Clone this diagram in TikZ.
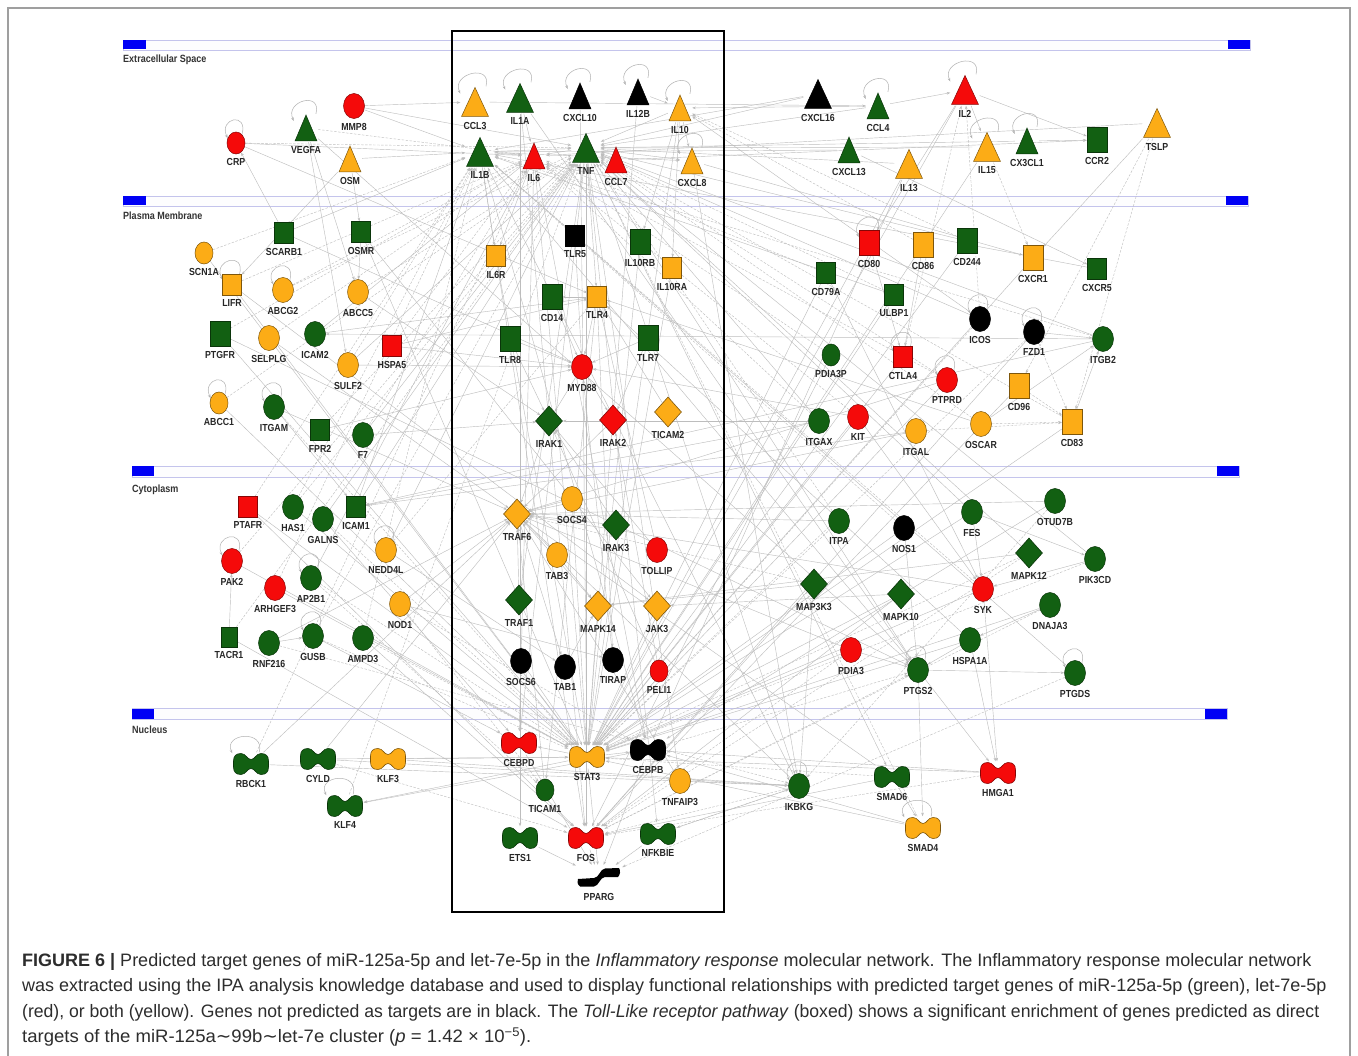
\documentclass[tikz,border=0pt]{standalone}
\usepackage{fontspec}
\setmainfont{Liberation Sans}
\newfontfamily\labfont{Liberation Sans}[FakeStretch=0.86]
\newfontfamily\dvfont{DejaVu Sans}
\usetikzlibrary{shapes.geometric,arrows.meta,backgrounds}
\definecolor{gGreen}{RGB}{18,96,18}
\definecolor{gRed}{RGB}{245,10,10}
\definecolor{gOrange}{RGB}{252,172,22}
\definecolor{lav}{RGB}{196,196,236}
\definecolor{cblue}{RGB}{0,0,245}
\definecolor{capc}{RGB}{45,45,45}
\tikzset{
  gn/.style={fill=gGreen, draw=gGreen!55!black},
  rd/.style={fill=gRed, draw=gRed!55!black},
  yl/.style={fill=gOrange, draw=gOrange!50!black},
  bk/.style={fill=black, draw=black},
  every label/.style={font=\labfont\bfseries\fontsize{10.2}{11}\selectfont, text=black!85, inner sep=1pt},
  label distance=3pt,
  sq/.style={rectangle, minimum width=19pt, minimum height=21pt, inner sep=0pt, line width=0.5pt},
  sqL/.style={rectangle, minimum width=20pt, minimum height=25pt, inner sep=0pt, line width=0.5pt},
  sqs/.style={rectangle, minimum width=16pt, minimum height=20pt, inner sep=0pt, line width=0.5pt},
  cir/.style={ellipse, minimum width=21pt, minimum height=25pt, inner sep=0pt, line width=0.5pt},
  cirs/.style={ellipse, minimum width=18pt, minimum height=22pt, inner sep=0pt, line width=0.5pt},
  dia/.style={diamond, minimum width=27pt, minimum height=30pt, inner sep=0pt, line width=0.6pt},
  tri/.style={rectangle, draw=none, fill=none, minimum width=29pt, minimum height=31pt, inner sep=0pt,
    path picture={\filldraw[#1, line width=0.5pt]
      ([shift={(-13.5,-14.5)}]path picture bounding box.center) --
      ([shift={(13.5,-14.5)}]path picture bounding box.center) --
      ([shift={(0,14.5)}]path picture bounding box.center) -- cycle;}},
  trs/.style={rectangle, draw=none, fill=none, minimum width=24pt, minimum height=28pt, inner sep=0pt,
    path picture={\filldraw[#1, line width=0.5pt]
      ([shift={(-11,-13)}]path picture bounding box.center) --
      ([shift={(11,-13)}]path picture bounding box.center) --
      ([shift={(0,13)}]path picture bounding box.center) -- cycle;}},
  db/.style={rectangle, draw=none, fill=none, minimum width=37pt, minimum height=23pt, inner sep=0pt,
    path picture={\filldraw[#1, line width=0.6pt, shift={(path picture bounding box.center)}]
      (0,4.5) .. controls (4,4.5) and (5,10.5) .. (10,10.5)
      .. controls (15,10.5) and (17.5,8) .. (17.5,3) -- (17.5,-3)
      .. controls (17.5,-8) and (15,-10.5) .. (10,-10.5)
      .. controls (5,-10.5) and (4,-4.5) .. (0,-4.5)
      .. controls (-4,-4.5) and (-5,-10.5) .. (-10,-10.5)
      .. controls (-15,-10.5) and (-17.5,-8) .. (-17.5,-3) -- (-17.5,3)
      .. controls (-17.5,8) and (-15,10.5) .. (-10,10.5)
      .. controls (-5,10.5) and (-4,4.5) .. (0,4.5) -- cycle;}},
  ppar/.style={rectangle, draw=none, fill=none, minimum width=46pt, minimum height=24pt, inner sep=0pt,
    path picture={\fill[black, shift={(path picture bounding box.center)}]
      (-21,-2) -- (-5,-1) .. controls (0,-1) and (1,8) .. (6,8.5) -- (20,9)
      .. controls (22,6) and (21,2) .. (19,0) -- (6,0)
      .. controls (1,0) and (0,-9) .. (-5,-9.5) -- (-19,-9.5)
      .. controls (-22,-7) and (-22,-4) .. (-21,-2) -- cycle;}},
  lnk/.style={draw=gray!52, line width=0.42pt, -{Stealth[length=3.6pt,width=2.6pt]}},
  lnkd/.style={lnk, dash pattern=on 2.5pt off 1.5pt},
  selfloop/.style={draw=gray!60, line width=0.5pt, -{Stealth[length=3.6pt,width=2.6pt]}},
  barbox/.style={draw=lav, fill=white!97!lav, line width=0.7pt},
  bluebox/.style={fill=cblue, draw=none},
  complab/.style={font=\labfont\bfseries\fontsize{10.5}{11}\selectfont, text=black!80, inner sep=0pt, anchor=west},
  capline/.style={font=\fontsize{18}{21}\selectfont, text=capc, inner sep=0pt, anchor=base west}
}
\begin{document}
\begin{tikzpicture}[x=1pt,y=1pt]
\useasboundingbox (0,0) rectangle (1358,-1056);

% ---------- extracellular ----------
\node[cirs,rd,label=below:CRP] (crp) at (236,-143) {};
\node[trs=gn,label=below:VEGFA] (vegfa) at (306,-128) {};
\node[cir,rd,label=below:MMP8] (mmp8) at (354,-106) {};
\node[trs=yl,label=below:OSM] (osm) at (350,-159) {};
\node[tri=yl,label=below:CCL3] (ccl3) at (475,-102) {};
\node[tri=gn,label=below:IL1A] (il1a) at (520,-98) {};
\node[trs=bk,label=below:CXCL10] (cxcl10) at (580,-96) {};
\node[trs=bk,label=below:IL12B] (il12b) at (638,-92) {};
\node[trs=yl,label=below:IL10] (il10) at (680,-108) {};
\node[tri=gn,label=below:IL1B] (il1b) at (480,-152) {};
\node[trs=rd,label=below:IL6] (il6) at (534,-156) {};
\node[tri=gn,label=below:TNF] (tnf) at (586,-148) {};
\node[trs=rd,label=below:CCL7] (ccl7) at (616,-160) {};
\node[trs=yl,label=below:CXCL8] (cxcl8) at (692,-161) {};
\node[tri=bk,label=below:CXCL16] (cxcl16) at (818,-94) {};
\node[trs=gn,label=below:CCL4] (ccl4) at (878,-106) {};
\node[tri=rd,label=below:IL2] (il2) at (965,-90) {};
\node[trs=gn,label=below:CXCL13] (cxcl13) at (849,-150) {};
\node[tri=yl,label=below:IL13] (il13) at (909,-164) {};
\node[tri=yl,label=below:IL15] (il15) at (987,-147) {};
\node[trs=gn,label=below:CX3CL1] (cx3cl1) at (1027,-141) {};
\node[sqL,gn,label=below:CCR2] (ccr2) at (1097,-140) {};
\node[tri=yl,label=below:TSLP] (tslp) at (1157,-123) {};

% ---------- plasma membrane ----------
\node[sq,gn,label=below:SCARB1] (scarb1) at (284,-233) {};
\node[sq,gn,label=below:OSMR] (osmr) at (361,-232) {};
\node[cirs,yl,label=below:SCN1A] (scn1a) at (204,-253) {};
\node[sq,yl,label=below:LIFR] (lifr) at (232,-285) {};
\node[cir,yl,label=below:ABCG2] (abcg2) at (283,-290) {};
\node[cir,yl,label=below:ABCC5] (abcc5) at (358,-292) {};
\node[sqL,gn,label=below:PTGFR] (ptgfr) at (220,-334) {};
\node[cir,yl,label=below:SELPLG] (selplg) at (269,-338) {};
\node[cir,gn,label=below:ICAM2] (icam2) at (315,-334) {};
\node[cir,yl,label=below:SULF2] (sulf2) at (348,-365) {};
\node[sq,rd,label=below:HSPA5] (hspa5) at (392,-346) {};
\node[cirs,yl,label=below:ABCC1] (abcc1) at (219,-403) {};
\node[cir,gn,label=below:ITGAM] (itgam) at (274,-407) {};
\node[sq,gn,label=below:FPR2] (fpr2) at (320,-430) {};
\node[cir,gn,label=below:F7] (f7) at (363,-435) {};

\node[sq,yl,label=below:IL6R] (il6r) at (496,-256) {};
\node[sq,bk,label=below:TLR5] (tlr5) at (575,-236) {};
\node[sqL,gn,label=below:IL10RB] (il10rb) at (640,-242) {};
\node[sq,yl,label=below:IL10RA] (il10ra) at (672,-268) {};
\node[sqL,gn,label=below:CD14] (cd14) at (552,-297) {};
\node[sq,yl,label=below:TLR4] (tlr4) at (597,-297) {};
\node[sqL,gn,label=below:TLR8] (tlr8) at (510,-339) {};
\node[sqL,gn,label=below:TLR7] (tlr7) at (648,-338) {};
\node[cir,rd,label=below:MYD88] (myd88) at (582,-367) {};
\node[dia,gn,label=below:IRAK1] (irak1) at (549,-421) {};
\node[dia,rd,label=below:IRAK2] (irak2) at (613,-420) {};
\node[dia,yl,label=below:TICAM2] (ticam2) at (668,-412) {};

\node[sqL,rd,label=below:CD80] (cd80) at (869,-243) {};
\node[sqL,yl,label=below:CD86] (cd86) at (923,-245) {};
\node[sqL,gn,label=below:CD244] (cd244) at (967,-241) {};
\node[sqL,yl,label=below:CXCR1] (cxcr1) at (1033,-258) {};
\node[sq,gn,label=below:CXCR5] (cxcr5) at (1097,-269) {};
\node[sq,gn,label=below:CD79A] (cd79a) at (826,-273) {};
\node[sq,gn,label=below:ULBP1] (ulbp1) at (894,-295) {};
\node[cir,bk,label=below:ICOS] (icos) at (980,-319) {};
\node[cir,bk,label=below:FZD1] (fzd1) at (1034,-332) {};
\node[cir,gn,label=below:ITGB2] (itgb2) at (1103,-339) {};
\node[cirs,gn,label=below:PDIA3P] (pdia3p) at (831,-355) {};
\node[sq,rd,label=below:CTLA4] (ctla4) at (903,-357) {};
\node[cir,rd,label=below:PTPRD] (ptprd) at (947,-380) {};
\node[sqL,yl,label=below:CD96] (cd96) at (1019,-386) {};
\node[sqL,yl,label=below:CD83] (cd83) at (1072,-422) {};
\node[cir,gn,label=below:ITGAX] (itgax) at (819,-421) {};
\node[cir,rd,label=below:KIT] (kit) at (858,-417) {};
\node[cir,yl,label=below:ITGAL] (itgal) at (916,-431) {};
\node[cir,yl,label=below:OSCAR] (oscar) at (981,-424) {};

% ---------- cytoplasm ----------
\node[sq,rd,label=below:PTAFR] (ptafr) at (248,-507) {};
\node[cir,gn,label=below:HAS1] (has1) at (293,-507) {};
\node[cir,gn,label=below:GALNS] (galns) at (323,-519) {};
\node[sq,gn,label=below:ICAM1] (icam1) at (356,-507) {};
\node[cir,yl,label=below:NEDD4L] (nedd4l) at (386,-550) {};
\node[cir,rd,label=below:PAK2] (pak2) at (232,-561) {};
\node[cir,rd,label=below:ARHGEF3] (arhgef3) at (275,-588) {};
\node[cir,gn,label=below:AP2B1] (ap2b1) at (311,-578) {};
\node[cir,yl,label=below:NOD1] (nod1) at (400,-604) {};
\node[sqs,gn,label=below:TACR1] (tacr1) at (229,-637) {};
\node[cir,gn,label=below:RNF216] (rnf216) at (269,-643) {};
\node[cir,gn,label=below:GUSB] (gusb) at (313,-636) {};
\node[cir,gn,label=below:AMPD3] (ampd3) at (363,-638) {};

\node[cir,yl,label=below:SOCS4] (socs4) at (572,-499) {};
\node[dia,yl,label=below:TRAF6] (traf6) at (517,-514) {};
\node[dia,gn,label=below:IRAK3] (irak3) at (616,-525) {};
\node[cir,yl,label=below:TAB3] (tab3) at (557,-555) {};
\node[cir,rd,label=below:TOLLIP] (tollip) at (657,-550) {};
\node[dia,gn,label=below:TRAF1] (traf1) at (519,-600) {};
\node[dia,yl,label=below:MAPK14] (mapk14) at (598,-606) {};
\node[dia,yl,label=below:JAK3] (jak3) at (657,-606) {};
\node[cir,bk,label=below:SOCS6] (socs6) at (521,-661) {};
\node[cir,bk,label=below:TAB1] (tab1) at (565,-667) {};
\node[cir,bk,label=below:TIRAP] (tirap) at (613,-660) {};
\node[cirs,rd,label=below:PELI1] (peli1) at (659,-671) {};

\node[cir,gn,label=below:OTUD7B] (otud7b) at (1055,-501) {};
\node[cir,gn,label=below:ITPA] (itpa) at (839,-521) {};
\node[cir,bk,label=below:NOS1] (nos1) at (904,-528) {};
\node[cir,gn,label=below:FES] (fes) at (972,-512) {};
\node[dia,gn,label=below:MAPK12] (mapk12) at (1029,-553) {};
\node[cir,gn,label=below:PIK3CD] (pik3cd) at (1095,-559) {};
\node[dia,gn,label=below:MAP3K3] (map3k3) at (814,-584) {};
\node[dia,gn,label=below:MAPK10] (mapk10) at (901,-594) {};
\node[cir,rd,label=below:SYK] (syk) at (983,-589) {};
\node[cir,gn,label=below:DNAJA3] (dnaja3) at (1050,-605) {};
\node[cir,rd,label=below:PDIA3] (pdia3) at (851,-650) {};
\node[cir,gn,label=below:HSPA1A] (hspa1a) at (970,-640) {};
\node[cir,gn,label=below:PTGS2] (ptgs2) at (918,-670) {};
\node[cir,gn,label=below:PTGDS] (ptgds) at (1075,-673) {};

% ---------- nucleus ----------
\node[db=gn,label=below:RBCK1] (rbck1) at (251,-764) {};
\node[db=gn,label=below:CYLD] (cyld) at (318,-759) {};
\node[db=yl,label=below:KLF3] (klf3) at (388,-759) {};
\node[db=gn,label=below:KLF4] (klf4) at (345,-806) {};
\node[db=rd,label=below:CEBPD] (cebpd) at (519,-743) {};
\node[db=yl,label=below:STAT3] (stat3) at (587,-757) {};
\node[db=bk,label=below:CEBPB] (cebpb) at (648,-750) {};
\node[cir,yl,label=below:TNFAIP3] (tnfaip3) at (680,-781) {};
\node[cirs,gn,label=below:TICAM1] (ticam1) at (545,-790) {};
\node[db=gn,label=below:ETS1] (ets1) at (520,-838) {};
\node[db=rd,label=below:FOS] (fos) at (586,-838) {};
\node[db=gn,label=below:NFKBIE] (nfkbie) at (658,-834) {};
\node[ppar,label=below:PPARG] (pparg) at (599,-877) {};
\node[cir,gn,label=below:IKBKG] (ikbkg) at (799,-786) {};
\node[db=gn,label=below:SMAD6] (smad6) at (892,-777) {};
\node[db=rd,label=below:HMGA1] (hmga1) at (998,-773) {};
\node[db=yl,label=below:SMAD4] (smad4) at (923,-828) {};

% pathway box
\draw[black, line width=1.6pt] (452,-31) rectangle (724,-912);

% blue compartment markers and labels
\fill[bluebox] (123,-40) rectangle (146,-49.5);
\fill[bluebox] (1228,-40) rectangle (1250,-49.5);
\node[complab] (lecs) at (123,-60) {Extracellular Space};
\fill[bluebox] (123,-196.5) rectangle (146,-205.5);
\fill[bluebox] (1226,-196.5) rectangle (1248,-205.5);
\node[complab] (lpm) at (123,-216) {Plasma Membrane};
\fill[bluebox] (132,-466.5) rectangle (154,-476.5);
\fill[bluebox] (1217,-466.5) rectangle (1239,-476.5);
\node[complab] (lcyt) at (132,-490) {Cytoplasm};
\fill[bluebox] (132,-708.5) rectangle (154,-718.5);
\fill[bluebox] (1205,-708.5) rectangle (1227,-718.5);
\node[complab] (lnuc) at (132,-730) {Nucleus};

% ---------- background: frame, bars, connectors ----------
\begin{pgfonlayer}{background}
\fill[white] (0,0) rectangle (1358,-1056);
\draw[gray!75, line width=1.2pt] (8,-1056) -- (8,-8) -- (1350,-8) -- (1350,-1056);
\draw[barbox] (123,-40) rectangle (1250,-50);
\draw[barbox] (123,-196) rectangle (1248,-206);
\draw[barbox] (132,-466) rectangle (1239,-477);
\draw[barbox] (132,-708) rectangle (1227,-719);
\foreach \a/\b in {mmp8/ccl3, osm/il1b, ccl3/ccl4, ccl4/il2, il2/ccr2, cx3cl1/ccr2, ccl7/ccr2,
  il1a/il6, il1b/il6, tnf/il6, tnf/cxcl8, il1b/cxcl8, il10/tnf, il10/cxcl8, il12b/il10,
  il6/il6r, il1b/il6r, il10/il10ra, il10/il10rb, tnf/tlr4, tlr4/cd14, tlr4/myd88, tlr8/myd88,
  tlr7/myd88, tlr5/myd88, cd14/myd88, myd88/irak1, myd88/irak2, ticam2/tlr4, tlr4/ticam1,
  ticam1/traf6, irak1/traf6, irak2/traf6, irak3/irak1, tollip/irak1, socs4/traf6, tab3/traf6,
  traf6/tab1, tab1/mapk14, traf6/mapk14, tirap/myd88, peli1/irak1, jak3/stat3, il6r/stat3,
  il10ra/stat3, il10rb/stat3, mapk14/stat3, stat3/fos, tnfaip3/traf6, tnf/tnfaip3,
  cebpb/pparg, cebpd/pparg, fos/pparg, nfkbie/pparg, ets1/pparg, stat3/pparg, traf1/traf6,
  tnf/traf1, tnf/nfkbie, il1b/cebpb, il6/cebpb, il6/cebpd, il6/stat3, il10/stat3, tnf/fos,
  il1b/fos, stat3/cebpd, stat3/cebpb, tnf/cebpd, il1a/ets1, socs6/stat3, tlr4/tirap,
  tlr8/irak1, tlr7/irak2, cxcl10/stat3, il12b/stat3, tab3/mapk14, socs4/stat3, tollip/tlr4,
  irak3/traf6, peli1/irak2, il1a/fos, il1b/tnf, ccl7/tnf,
  cxcl8/cxcr1, tnf/ikbkg, ikbkg/nfkbie, tnf/ptgs2, il1b/ptgs2, ptgs2/ptgds, syk/hmga1,
  hspa1a/hmga1, ptgs2/hmga1, smad6/smad4, tnf/smad6, ptgs2/smad4, cd80/ctla4, cd86/ctla4,
  il2/cd80, itgb2/icam1, itgal/icam1, itgb2/icam2, itgax/icam1, kit/syk, fes/syk,
  map3k3/mapk14, mapk12/mapk14, dnaja3/hspa1a, hspa1a/tlr4, pdia3/stat3, nos1/ptgs2,
  otud7b/traf6, fzd1/itgb2, oscar/itgb2, cd83/itgb2, itgax/tnf, cd79a/syk, il13/cebpb,
  il15/stat3, il2/stat3, il13/stat3, cxcl13/cxcr5, ptprd/stat3, mapk10/jak3, syk/traf6,
  ikbkg/traf6, smad6/traf6, smad4/stat3, kit/stat3, fes/stat3, pik3cd/syk, fes/pik3cd,
  map3k3/ikbkg, mapk10/fos, hspa1a/ptgs2, pdia3/ptgs2, il1a/ptgs2, cxcl8/ikbkg, hmga1/stat3,
  il2/il15, tslp/cxcr1, cd244/tnf, ulbp1/il1b, icos/il10, cxcl16/il1b, ccl4/il10,
  scarb1/crp, osm/osmr, osmr/abcc5, osm/lifr, vegfa/sulf2, vegfa/abcc5, mmp8/tnf, hspa5/tlr4,
  icam1/il1b, icam1/tnf, tacr1/pak2, rnf216/gusb, rbck1/traf6, cyld/traf6, cyld/stat3,
  klf3/stat3, stat3/klf4, cebpb/klf4, crp/il6, mmp8/il1b, itgam/icam1, lifr/stat3,
  osmr/stat3, ptafr/stat3, nedd4l/tnf, nod1/traf6, ptgfr/ptgs2, vegfa/ptgs2, scarb1/il1b,
  f7/tnf, icam2/il6, sulf2/tnf, rbck1/ikbkg, cyld/ikbkg, klf3/ikbkg, ap2b1/il6, galns/tnf,
  abcc5/irak1, sulf2/myd88, hspa5/myd88, itgam/traf6, f7/irak1, fpr2/myd88, icam2/tlr4,
  selplg/traf6, ptgfr/stat3, nedd4l/tab1, nod1/tirap, ampd3/fos, gusb/cebpd, arhgef3/stat3,
  pak2/stat3, rnf216/traf6, tacr1/fos, has1/stat3, galns/cebpd, ptafr/fos, scn1a/stat3,
  abcc1/stat3, lifr/jak3, scarb1/myd88, osmr/jak3, crp/tlr4,
  itgax/irak1, kit/myd88, itgal/traf6, oscar/tlr4, ptprd/traf6, cd83/stat3, cd96/fos,
  fzd1/fos, icos/tnf, ctla4/stat3, pdia3p/fos, ulbp1/stat3, cd79a/stat3, cd244/stat3,
  cxcr1/stat3, cxcr5/il1b, itgb2/tnf, itpa/traf6, nos1/stat3, fes/tnf, otud7b/cebpb,
  mapk12/tnf, pik3cd/tnf, map3k3/fos, mapk10/stat3, syk/stat3, dnaja3/stat3, pdia3/traf6,
  hspa1a/stat3, ptgds/il1b, ikbkg/il1b, smad6/fos, hmga1/cebpb, smad4/cebpb, il13/tnf,
  il15/tnf, tslp/il6, cx3cl1/tnf, cxcl13/il1b, ccl4/tnf, cxcl16/tnf}
  \draw[lnk] (\a) -- (\b);
\foreach \a/\b in {il15/cxcr1, tslp/cd83, cd96/cd83, fzd1/cd83, oscar/cd83, tslp/cd96,
  itgal/cd83, crp/tnf, abcg2/il6, abcc5/tnf, sulf2/il1b, galns/stat3, has1/il1b, ampd3/stat3,
  gusb/tnf, arhgef3/il1b, nedd4l/tlr4, ap2b1/stat3, nod1/ticam1, pak2/tnf, ptgfr/il6,
  selplg/il6, itgam/stat3, fpr2/tnf, f7/il6, abcc1/tnf, scn1a/il1b, lifr/il6, cd244/il10,
  ulbp1/tnf, pdia3p/il6, ptprd/tnf, itpa/stat3, cd79a/il6, icos/il2, ctla4/il2,
  otud7b/ikbkg, pdia3/fos, map3k3/traf6, mapk12/stat3, dnaja3/fos, ptgds/pparg,
  rnf216/ikbkg, tacr1/tnf, hspa5/il6, vegfa/il6, itpa/tnf, nos1/il1b, kit/il6, oscar/tnf,
  cd86/il10, ptprd/il6, icos/stat3, fzd1/stat3, itgb2/il1b, cd83/tnf, itgax/il6,
  pik3cd/stat3, mapk12/fos, syk/il1b, smad4/tnf, smad6/stat3, hmga1/fos, ikbkg/fos,
  abcg2/tnf, ampd3/il1b, gusb/stat3, ptafr/il1b, has1/tnf, cyld/fos, klf4/tnf, rbck1/il6,
  ap2b1/ticam1, nod1/cebpb, tnfaip3/ikbkg, nfkbie/ikbkg, cebpb/ptgs2, fos/ptgs2}
  \draw[lnkd] (\a) -- (\b);
\foreach \n in {crp, vegfa, ccl3, il1a, cxcl10, il12b, il10, cxcl8, ccl4, il2, il15, cx3cl1,
  lifr, abcg2, abcc1, itgam, cd80, ctla4, fzd1, icos, ptgds, rbck1, klf4, smad4, pak2,
  ikbkg, ptgs2, ptprd, gusb, ap2b1, nedd4l}
  \draw[selfloop] (\n.55) .. controls +(75:24) and +(115:22) .. (\n.150);
\end{pgfonlayer}

% ---------- caption ----------
\node[capline] (cap1) at (22,-966) {\textbf{FIGURE 6 |} Predicted target genes of miR-125a-5p and let-7e-5p in the \textit{Inflammatory response} molecular network. The Inflammatory response molecular network};
\node[capline] (cap2) at (22,-991.5) {was extracted using the IPA analysis knowledge database and used to display functional relationships with predicted target genes of miR-125a-5p (green), let-7e-5p};
\node[capline, xscale=0.978, transform shape] (cap3) at (22,-1017) {(red), or both (yellow). Genes not predicted as targets are in black. The \textit{Toll-Like receptor pathway} (boxed) shows a significant enrichment of genes predicted as direct};
\node[capline, xscale=1.03, transform shape] (cap4) at (22,-1042.5) {targets of the miR-125a{\dvfont ∼}99b{\dvfont ∼}let-7e cluster (\textit{p} = 1.42 × 10\textsuperscript{−5}).};
\end{tikzpicture}
\end{document}
